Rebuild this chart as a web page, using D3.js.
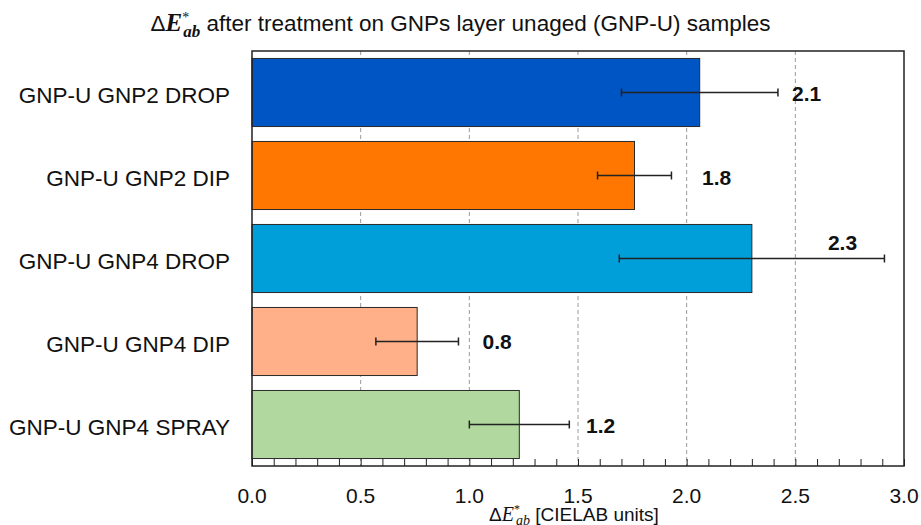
<!DOCTYPE html>
<html>
<head>
<meta charset="utf-8">
<script src="https://cdn.jsdelivr.net/npm/d3@7"></script>
<style>
  html, body { margin: 0; padding: 0; background: #fff; }
  svg { display: block; }
</style>
</head>
<body>
<svg id="chart" width="921" height="525"></svg>
<script>
// Colour difference after treatment, per sample
const categories = [
  "GNP-U GNP2 DROP",
  "GNP-U GNP2 DIP",
  "GNP-U GNP4 DROP",
  "GNP-U GNP4 DIP",
  "GNP-U GNP4 SPRAY"
];
const deltaE = [2.06, 1.76, 2.30, 0.76, 1.23];
const stdDev = [0.36, 0.17, 0.61, 0.19, 0.23];
const barColors = ["#0055c5", "#ff7700", "#009fd9", "#ffb088", "#b1d89e"];
const xTicks = [0, 0.5, 1.0, 1.5, 2.0, 2.5, 3.0];

// where each value label sits (axis units, pixel shift)
const labelAnchor = [2.485, 2.071, 2.650, 1.061, 1.537];
const labelShift = [1, 2, -16, 0, 1];

const svg = d3.select("#chart");
const W = 921, H = 525;
const plot = { left: 252, right: 904, top: 51, bottom: 466 };

const x = d3.scaleLinear().domain([0, 3]).range([plot.left, plot.right]);
const y = d3.scaleBand()
  .domain(categories)
  .range([plot.top, plot.bottom])
  .paddingInner(0.18)
  .paddingOuter(0.09);

const sansFont = "'Liberation Sans', Arial, sans-serif";
const serifFont = "'Liberation Serif', 'DejaVu Serif', serif";

// dashed vertical grid
svg.append("g")
  .selectAll("line")
  .data(xTicks.filter(t => t > 0 && t < 3))
  .join("line")
  .attr("x1", d => x(d)).attr("x2", d => x(d))
  .attr("y1", plot.top).attr("y2", plot.bottom)
  .attr("stroke", "#9a9a9a")
  .attr("stroke-width", 1)
  .attr("stroke-dasharray", "4,3");

// bars
const rows = categories.map((c, i) => ({
  name: c, v: deltaE[i], e: stdDev[i], color: barColors[i],
  lx: labelAnchor[i], ly: labelShift[i]
}));

svg.append("g")
  .selectAll("rect")
  .data(rows)
  .join("rect")
  .attr("x", x(0))
  .attr("y", d => y(d.name))
  .attr("width", d => x(d.v) - x(0))
  .attr("height", y.bandwidth())
  .attr("fill", d => d.color)
  .attr("stroke", "#2a2a2a")
  .attr("stroke-width", 1);

// error bars
const eb = svg.append("g")
  .attr("stroke", "#222")
  .attr("stroke-width", 1.5)
  .selectAll("g")
  .data(rows)
  .join("g")
  .attr("transform", d => `translate(0,${y(d.name) + y.bandwidth() / 2})`);
eb.append("line")
  .attr("x1", d => x(d.v - d.e)).attr("x2", d => x(d.v + d.e))
  .attr("y1", 0).attr("y2", 0);
eb.append("line")
  .attr("x1", d => x(d.v - d.e)).attr("x2", d => x(d.v - d.e))
  .attr("y1", -4).attr("y2", 4);
eb.append("line")
  .attr("x1", d => x(d.v + d.e)).attr("x2", d => x(d.v + d.e))
  .attr("y1", -4).attr("y2", 4);

// value labels
svg.append("g")
  .selectAll("text")
  .data(rows)
  .join("text")
  .attr("x", d => x(d.lx))
  .attr("y", d => y(d.name) + y.bandwidth() / 2 + d.ly)
  .attr("dominant-baseline", "central")
  .attr("font-family", sansFont)
  .attr("font-weight", "bold")
  .attr("font-size", 21)
  .attr("fill", "#111")
  .text(d => d3.format(".1f")(d.v));

// bottom axis: minor ticks every 0.1 pointing inward, labels at 0.5
const xAxis = d3.axisBottom(x)
  .tickValues(d3.range(0, 31).map(i => i / 10))
  .tickSizeInner(-7)
  .tickSizeOuter(0)
  .tickFormat("");
const gx = svg.append("g")
  .attr("transform", `translate(0,${plot.bottom})`)
  .call(xAxis);
gx.select(".domain").remove();
gx.selectAll(".tick line").attr("stroke", "#222").attr("stroke-width", 1);

svg.append("g")
  .selectAll("text")
  .data(xTicks)
  .join("text")
  .attr("x", d => x(d))
  .attr("y", 503)
  .attr("text-anchor", "middle")
  .attr("font-family", sansFont)
  .attr("font-size", 21)
  .attr("fill", "#111")
  .text(d => d3.format(".1f")(d));

// category labels
const yAxis = d3.axisLeft(y).tickSize(0).tickPadding(22);
const gy = svg.append("g")
  .attr("transform", `translate(${plot.left},0)`)
  .call(yAxis);
gy.select(".domain").remove();
gy.selectAll(".tick text")
  .attr("font-family", sansFont)
  .attr("font-size", 22.5)
  .attr("fill", "#111")
  .attr("dy", "0.45em");

// plot frame
svg.append("rect")
  .attr("x", plot.left).attr("y", plot.top)
  .attr("width", plot.right - plot.left)
  .attr("height", plot.bottom - plot.top)
  .attr("fill", "none")
  .attr("stroke", "#222")
  .attr("stroke-width", 1.5);

// title
const title = svg.append("text")
  .attr("x", W / 2)
  .attr("y", 31)
  .attr("text-anchor", "middle")
  .attr("font-family", sansFont)
  .attr("font-size", 22.5)
  .attr("fill", "#111");
title.append("tspan").text("Δ");
title.append("tspan").attr("font-family", serifFont).attr("font-weight", "bold")
  .attr("font-style", "italic").attr("font-size", 25).text("E");
title.append("tspan").attr("font-family", serifFont).attr("font-size", 14)
  .attr("dy", -9).text("*");
title.append("tspan").attr("font-family", serifFont).attr("font-weight", "bold")
  .attr("font-style", "italic").attr("font-size", 17).attr("dx", -6).attr("dy", 15).text("ab");
title.append("tspan").attr("dy", -6).text(" after treatment on GNPs layer unaged (GNP-U) samples");

// x axis title
const xt = svg.append("text")
  .attr("x", (plot.left + plot.right) / 2 - 4)
  .attr("y", 521)
  .attr("text-anchor", "middle")
  .attr("font-family", sansFont)
  .attr("font-size", 19)
  .attr("fill", "#111");
xt.append("tspan").text("Δ");
xt.append("tspan").attr("font-family", serifFont).attr("font-style", "italic")
  .attr("font-size", 20).text("E");
xt.append("tspan").attr("font-family", serifFont).attr("font-size", 12)
  .attr("dy", -8).text("*");
xt.append("tspan").attr("font-family", serifFont).attr("font-style", "italic")
  .attr("font-size", 14).attr("dx", -4).attr("dy", 12).text("ab");
xt.append("tspan").attr("dy", -4).text(" [CIELAB units]");
</script>
</body>
</html>
